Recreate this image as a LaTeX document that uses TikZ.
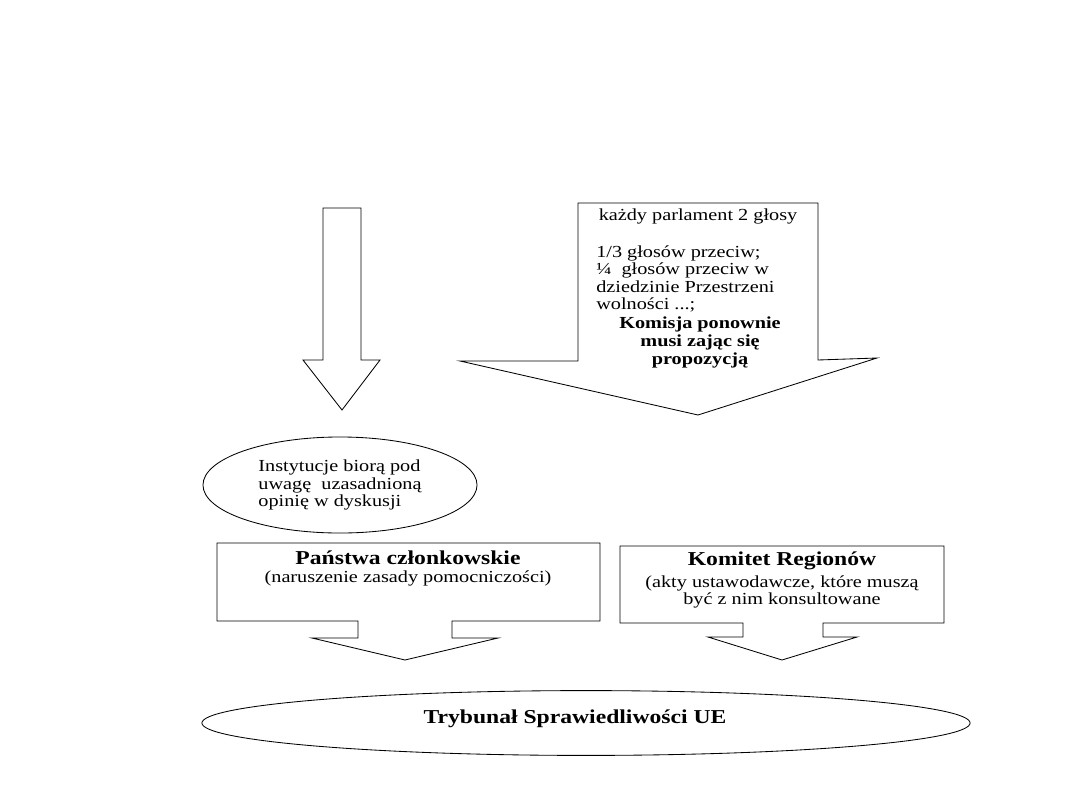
\documentclass[tikz,border=0pt]{standalone}
\usepackage{fontspec}
\setmainfont{Liberation Serif}[FakeStretch=1.2]
\usepackage{tikz}
\usetikzlibrary{shapes.geometric}

\begin{document}
\begin{tikzpicture}[
            x=0.025cm, y=-0.025cm,
            outline/.style={draw=black, line width=0.6pt},
            oval/.style={outline, ellipse, inner sep=0pt},
            plaintext/.style={inner sep=0pt, font=\fontsize{12}{12.4}\selectfont},
            boldtext/.style={inner sep=0pt, align=center, font=\fontsize{12}{12.8}\selectfont\bfseries},
            titletext/.style={inner sep=0pt, font=\fontsize{14}{16}\selectfont\bfseries}
        ]
            \useasboundingbox (0, 0) rectangle (1080, 810);

            % arrows (top)
            \draw[outline] (323, 208) -- (361, 208) -- (361, 360) -- (380, 360) -- (342, 410)
                -- (303, 360) -- (323, 360) -- cycle;
            \draw[outline] (578, 203) -- (818, 203) -- (818, 360) -- (877, 358) -- (698, 415)
                -- (460, 361) -- (578, 361) -- cycle;

            % boxes with arrows (bottom)
            \draw[outline] (217, 543) -- (600, 543) -- (600, 621) -- (452, 621) -- (452, 638)
                -- (498, 638) -- (405, 660) -- (312, 638) -- (358, 638) -- (358, 621)
                -- (217, 621) -- cycle;
            \draw[outline] (620, 546) -- (944, 546) -- (944, 623) -- (823, 623) -- (823, 637)
                -- (857, 637) -- (782, 660) -- (708, 637) -- (743, 637) -- (743, 623)
                -- (620, 623) -- cycle;

            % text in the big arrow
            \node[plaintext] (votes) at (698, 216) {każdy parlament 2 głosy};
            \node[plaintext, align=left, anchor=west] (against) at (596, 279)
                {1/3 głosów przeciw;\\¼\ \ głosów przeciw w\\dziedzinie Przestrzeni\\wolności ...;};
            \node[boldtext] (commission) at (700, 342) {Komisja ponownie\\musi zając się\\propozycją};

            % ovals
            \node[oval, minimum width=6.85cm, minimum height=2.4cm, plaintext, align=left] (opinion) at (340, 485)
                {Instytucje biorą pod\\uwagę\ \ uzasadnioną\\opinię w dyskusji};
            \node[oval, minimum width=19.2cm, minimum height=1.62cm] (courtoval) at (586, 723) {};
            \node[titletext] (court) at (575, 719) {Trybunał Sprawiedliwości UE};

            % box texts
            \node[titletext] (states) at (408, 558) {Państwa członkowskie};
            \node[plaintext] (statesnote) at (408, 578) {(naruszenie zasady pomocniczości)};
            \node[titletext] (regions) at (782, 561) {Komitet Regionów};
            \node[plaintext, align=center] (regionsnote) at (782, 592)
                {(akty ustawodawcze, które muszą\\być z nim konsultowane};

        \end{tikzpicture}
\end{document}
